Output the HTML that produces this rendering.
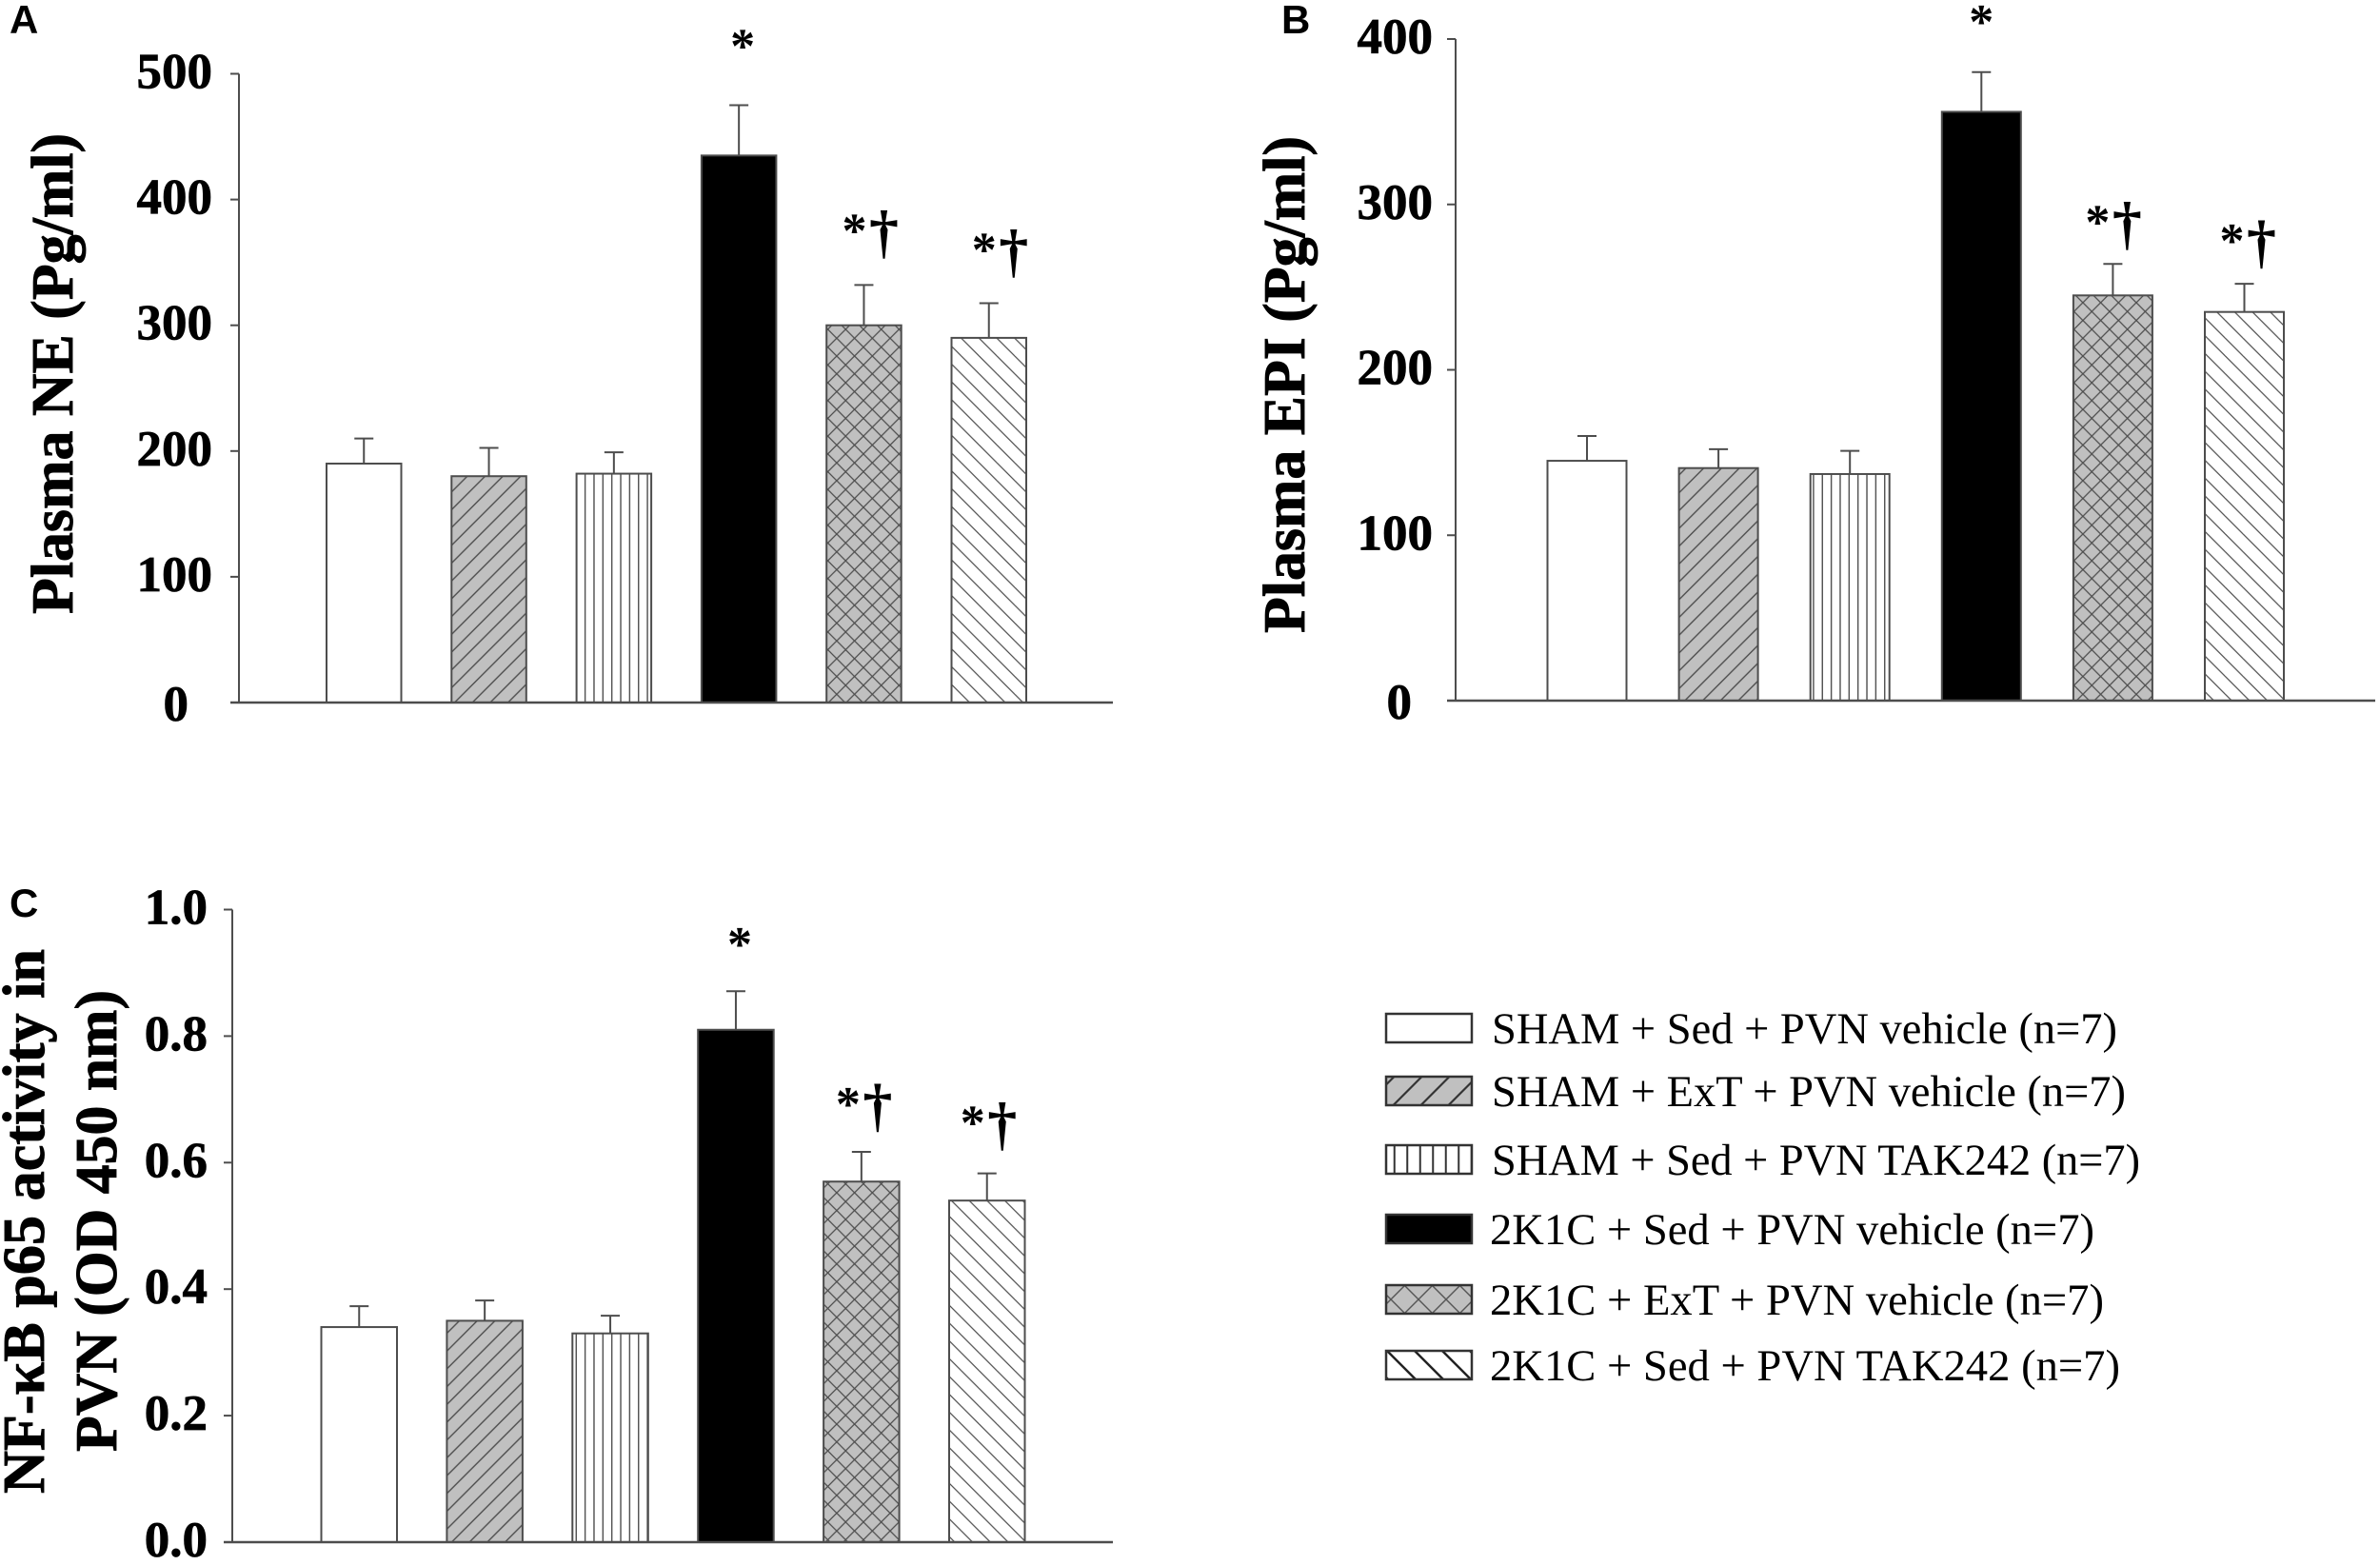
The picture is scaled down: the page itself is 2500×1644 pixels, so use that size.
<!DOCTYPE html>
<html lang="en">
<head>
<meta charset="utf-8">
<title>Plasma NE, Plasma EPI and NF-κB p65 activity by group</title>
<style>
html,body{margin:0;padding:0;background:#fff;}
svg{display:block;}
text{font-family:"Liberation Serif",serif;fill:#000;}
.panel-letter{font-family:"Liberation Sans",sans-serif;font-weight:700;font-size:42px;}
.tick{font-weight:700;font-size:53px;text-anchor:end;stroke:#000;stroke-width:.7px;}
.title{font-weight:700;font-size:62px;stroke:#000;stroke-width:.9px;}
.mark{font-weight:700;}
.legend-text{font-size:47px;}
</style>
</head>
<body>
<svg id="figure" xmlns="http://www.w3.org/2000/svg" width="2500" height="1644" viewBox="0 0 2500 1644">
  <rect x="0" y="0" width="2500" height="1644" fill="#fff"/>
  <defs id="defs"></defs>
</svg>
<script>
// ---- data ----
const categories = [
  "SHAM + Sed + PVN vehicle (n=7)",
  "SHAM + ExT + PVN vehicle (n=7)",
  "SHAM + Sed + PVN TAK242 (n=7)",
  "2K1C + Sed + PVN vehicle (n=7)",
  "2K1C + ExT + PVN vehicle (n=7)",
  "2K1C + Sed + PVN TAK242 (n=7)"
];
const valuesA = [190, 180, 182, 435, 300, 290];
const errorsA = [20, 22.5, 17, 40, 32, 27.6];
const valuesB = [145, 140.6, 137, 356, 245, 235];
const errorsB = [15, 11.4, 14, 24, 19, 17];
const valuesC = [0.34, 0.35, 0.33, 0.81, 0.57, 0.54];
const errorsC = [0.033, 0.032, 0.028, 0.061, 0.047, 0.043];
const ticksA = [0, 100, 200, 300, 400, 500];
const tickLabelsA = ["0", "100", "200", "300", "400", "500"];
const ticksB = [0, 100, 200, 300, 400];
const tickLabelsB = ["0", "100", "200", "300", "400"];
const ticksC = [0, 0.2, 0.4, 0.6, 0.8, 1.0];
const tickLabelsC = ["0.0", "0.2", "0.4", "0.6", "0.8", "1.0"];
const significance = ["", "", "", "*", "*†", "*†"];
const fillKinds = ["none", "diag", "vert", "solid", "cross", "back"];

// ---- helpers ----
const NS = "http://www.w3.org/2000/svg";
const svg = document.getElementById("figure");
const defs = document.getElementById("defs");
const INK = "#4d4d4d";
const GREY = "#c0c0c0";

function make(tag, attrs, parent, text) {
  const node = document.createElementNS(NS, tag);
  for (const key in attrs) node.setAttribute(key, attrs[key]);
  if (text !== undefined) node.textContent = text;
  (parent || svg).appendChild(node);
  return node;
}

function addPattern(id, kind, s, w, dx, dy, ink) {
  const p = make("pattern", {
    id: id, patternUnits: "userSpaceOnUse", width: s, height: s,
    patternTransform: "translate(" + dx + " " + dy + ")"
  }, defs);
  const bg = kind === "diag" || kind === "cross" ? GREY : "#fff";
  make("rect", {x: 0, y: 0, width: s, height: s, fill: bg}, p);
  const st = {stroke: ink, "stroke-width": w};
  if (kind === "vert") {
    make("line", Object.assign({x1: s / 2, y1: 0, x2: s / 2, y2: s}, st), p);
  }
  if (kind === "diag" || kind === "cross") {
    make("line", Object.assign({x1: -1, y1: s + 1, x2: s + 1, y2: -1}, st), p);
    make("line", Object.assign({x1: -1, y1: 1, x2: 1, y2: -1}, st), p);
    make("line", Object.assign({x1: s - 1, y1: s + 1, x2: s + 1, y2: s - 1}, st), p);
  }
  if (kind === "back" || kind === "cross") {
    make("line", Object.assign({x1: -1, y1: -1, x2: s + 1, y2: s + 1}, st), p);
    make("line", Object.assign({x1: s - 1, y1: -1, x2: s + 1, y2: 1}, st), p);
    make("line", Object.assign({x1: -1, y1: s - 1, x2: 1, y2: s + 1}, st), p);
  }
}
addPattern("bar-diag", "diag", 18.7, 1.4, 0, 0, INK);
addPattern("bar-cross", "cross", 18.7, 1.3, 0, 0, INK);
addPattern("bar-back", "back", 18.7, 1.2, 0, 0, INK);
addPattern("bar-vert", "vert", 9.35, 1.4, 2.2, 0, INK);
addPattern("leg-diag", "diag", 29, 2.2, 14.5, 0, "#333");
addPattern("leg-cross", "cross", 29, 1.4, 11, 2, "#555");
addPattern("leg-back", "back", 29, 2.5, 9, 0, "#222");
addPattern("leg-vert", "vert", 13.5, 2, 0, 0, "#333");

function fillFor(kind, prefix) {
  if (kind === "none") return "#fff";
  if (kind === "solid") return "#000";
  return "url(#" + prefix + "-" + kind + ")";
}

function drawPanel(cfg) {
  const g = make("g", {});
  
  

  const yMax = cfg.ticks[cfg.ticks.length - 1];
  const y = function (v) { return cfg.y0 - (v / yMax) * (cfg.y0 - cfg.yTop); };
  const x = function (i) { return cfg.barStart + i * cfg.barStep; };

  const letter = make("text", {x: cfg.letterX, y: cfg.letterY, "class": "panel-letter"}, g, cfg.id.toUpperCase());
  
  

  cfg.titles.forEach(function (t, i) {
    const title = make("text", {
      "class": "title",
      transform: "translate(" + t.x + " " + t.bottom + ") rotate(-90)",
      textLength: t.len,
      lengthAdjust: "spacingAndGlyphs"
    }, g, t.text);
    
    
  });

  cfg.values.forEach(function (v, i) {
    const cx = x(i) + cfg.barWidth / 2;
    const topErr = y(v + cfg.errors[i]);
    const errLine = make("line", {x1: cx, x2: cx, y1: y(v), y2: topErr, stroke: INK, "stroke-width": 2}, g);
    
    
    const errCap = make("line", {x1: cx - 10, x2: cx + 10, y1: topErr, y2: topErr, stroke: INK, "stroke-width": 2}, g);
    
    

    const bar = make("rect", {
      x: x(i), y: y(v), width: cfg.barWidth, height: cfg.y0 - y(v),
      fill: fillFor(fillKinds[i], "bar"), stroke: INK, "stroke-width": 2
    }, g);
    
    

    const mark = significance[i];
    if (mark) {
      const base = topErr - cfg.markGaps[i];
      const star = make("text", {
        "class": "mark", x: cx + cfg.starDx[i], y: base + 22, "font-size": 52, "text-anchor": "middle"
      }, g, "*");
      
      
      if (mark.length > 1) {
        const dagger = make("text", {
          "class": "mark", x: cx + cfg.starDx[i] + 31, y: base + 27, "font-size": 62, "text-anchor": "middle"
        }, g, "†");
        
        
      }
    }
  });

  const yAxis = make("line", {x1: cfg.axisX, x2: cfg.axisX, y1: cfg.yTop, y2: cfg.y0, stroke: INK, "stroke-width": 2}, g);
  
  
  const xAxis = make("line", {x1: cfg.axisX - cfg.tickLen, x2: cfg.xEnd, y1: cfg.y0, y2: cfg.y0, stroke: INK, "stroke-width": 2.5}, g);
  
  

  cfg.ticks.forEach(function (t, i) {
    const tick = make("line", {x1: cfg.axisX - cfg.tickLen, x2: cfg.axisX, y1: y(t), y2: y(t), stroke: INK, "stroke-width": 2}, g);
    
    
    const nudge = i === 0 ? cfg.zeroNudge : 0;
    const lab = make("text", {
      "class": "tick", x: cfg.labelRight - nudge, y: y(t) + cfg.labelDy + (i === 0 ? cfg.zeroDy : 0)
    }, g, cfg.tickLabels[i]);
    
    
  });
}

drawPanel({
  id: "a", values: valuesA, errors: errorsA, ticks: ticksA, tickLabels: tickLabelsA,
  axisX: 251, tickLen: 9, xEnd: 1169, y0: 738, yTop: 77.5,
  barStart: 343, barStep: 131.3, barWidth: 78.5,
  labelRight: 223, labelDy: 15, zeroNudge: 25, zeroDy: 4,
  letterX: 10, letterY: 35,
  markGaps: [0, 0, 0, 67, 62, 61], starDx: [0, 0, 0, 4, -10, -5],
  titles: [{text: "Plasma NE (Pg/ml)", x: 76, bottom: 645, len: 505}]
});
drawPanel({
  id: "b", values: valuesB, errors: errorsB, ticks: ticksB, tickLabels: tickLabelsB,
  axisX: 1529, tickLen: 9, xEnd: 2495, y0: 736, yTop: 41,
  barStart: 1625.5, barStep: 138.1, barWidth: 83,
  labelRight: 1505, labelDy: 15, zeroNudge: 22, zeroDy: 4,
  letterX: 1346, letterY: 35,
  markGaps: [0, 0, 0, 58, 49, 50], starDx: [0, 0, 0, 0, -16, -13],
  titles: [{text: "Plasma EPI (Pg/ml)", x: 1370, bottom: 665, len: 522}]
});
drawPanel({
  id: "c", values: valuesC, errors: errorsC, ticks: ticksC, tickLabels: tickLabelsC,
  axisX: 244, tickLen: 9, xEnd: 1169, y0: 1620, yTop: 955.5,
  barStart: 337.5, barStep: 131.9, barWidth: 79.5,
  labelRight: 218, labelDy: 15, zeroNudge: 0, zeroDy: 0,
  letterX: 10, letterY: 963,
  markGaps: [0, 0, 0, 54, 55, 58], starDx: [0, 0, 0, 4, -14, -15],
  titles: [
    {text: "NF-κB p65 activity in", x: 46, bottom: 1569, len: 572},
    {text: "PVN (OD 450 nm)", x: 122, bottom: 1525, len: 485}
  ]
});

// ---- legend ----
const legendGroup = make("g", {});


const legendTops = [1065, 1131, 1203, 1276, 1350, 1419];
const legendEnds = [657, 666, 681, 635, 645, 662];
categories.forEach(function (label, i) {
  const entry = make("g", {}, legendGroup);
  
  
  const swatch = make("rect", {
    x: 1456, y: legendTops[i], width: 90, height: 30,
    fill: fillFor(fillKinds[i], "leg"), stroke: "#333", "stroke-width": 2.5
  }, entry);
  
  
  const txt = make("text", {
    "class": "legend-text", x: i < 3 ? 1567 : 1565, y: legendTops[i] + 31,
    textLength: legendEnds[i], lengthAdjust: "spacingAndGlyphs"
  }, entry, label);
  
  
});
</script>
</body>
</html>
